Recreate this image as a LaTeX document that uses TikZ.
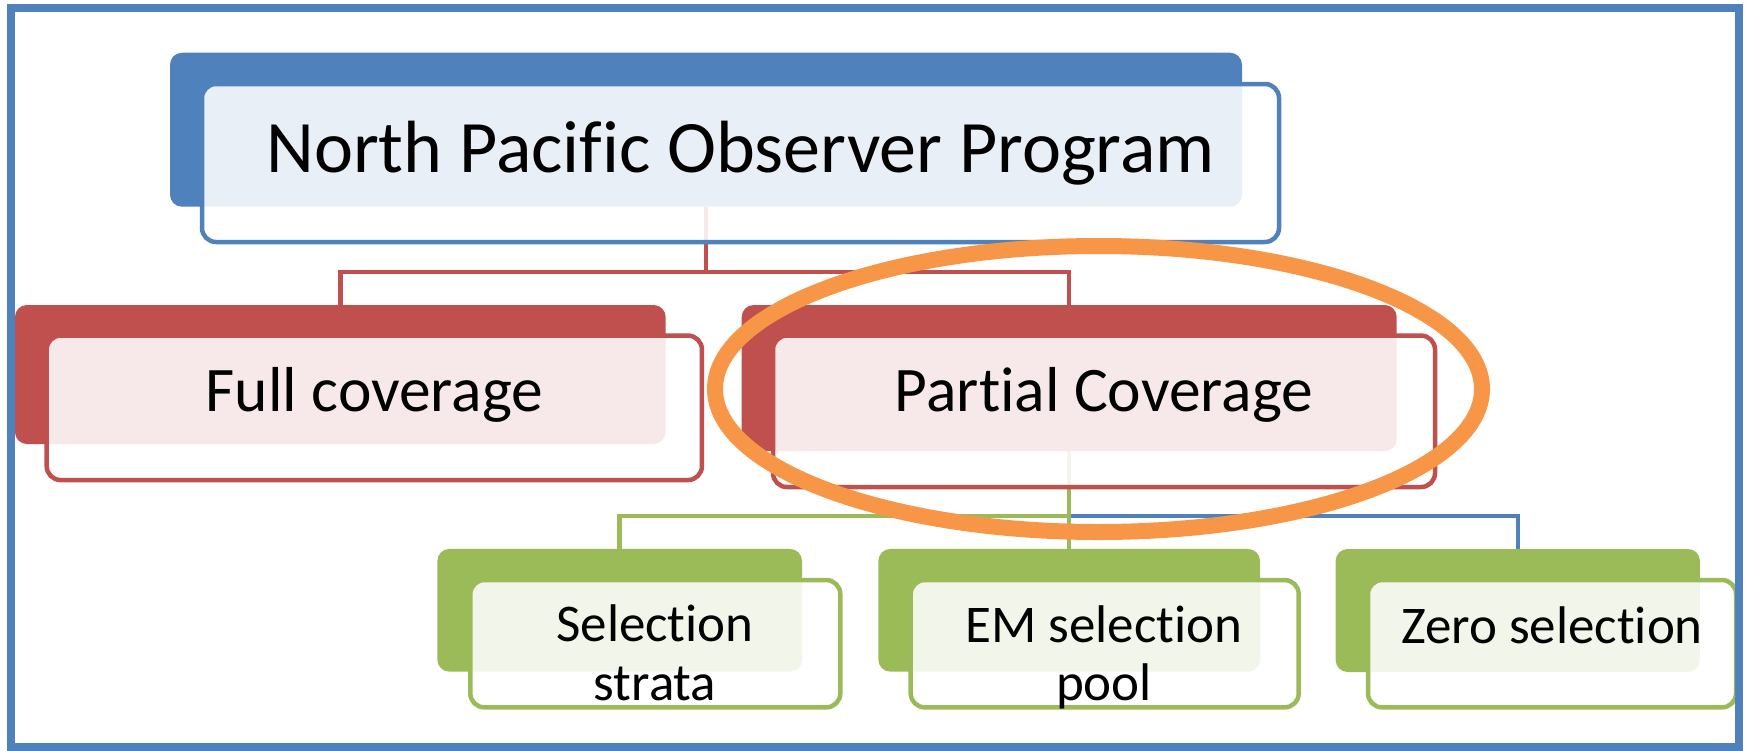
\documentclass[tikz,border=0pt]{standalone}
\usepackage{fontspec}
\setmainfont{Carlito}[Ligatures=NoCommon]
\definecolor{npblue}{HTML}{4F81BD}
\definecolor{npred}{HTML}{C0504D}
\definecolor{npgreen}{HTML}{9BBB59}
\definecolor{nporange}{HTML}{F79646}

\begin{document}
\begin{tikzpicture}
[x=1pt,y=-1pt
,bk/.style={fill=#1,rounded corners=12pt,inner sep=0pt,outer sep=0pt}
,fr/.style={draw=#1,line width=4.5pt,fill=white,fill opacity=0.88,rounded corners=14pt,inner sep=0pt,outer sep=0pt}
,con/.style={draw=#1,line width=4.5pt}
,txt/.style={anchor=base,inner sep=0pt,align=center}
,toptext/.style={font=\fontsize{74}{80}\selectfont}
,covtext/.style={font=\fontsize{63.5}{70}\selectfont}
,seltext/.style={font=\fontsize{53}{58.3}\selectfont}]
\useasboundingbox (0,0) rectangle (1747,750);

% back plates
\node[bk=npblue,minimum width=1072pt,minimum height=154pt] (npop) at (706,129.7) {};
\node[bk=npred,minimum width=650.7pt,minimum height=139pt] (full) at (340.3,374.5) {};
\node[bk=npred,minimum width=655pt,minimum height=146pt] (partial) at (1069.2,378) {};
\node[bk=npgreen,minimum width=364.7pt,minimum height=122.7pt] (strata) at (619.7,610.3) {};
\node[bk=npgreen,minimum width=381.7pt,minimum height=122.7pt] (empool) at (1069.2,610.3) {};
\node[bk=npgreen,minimum width=364.3pt,minimum height=123pt] (zero) at (1517.8,610.5) {};

% connectors
\coordinate (split1) at (706,272);
\coordinate (split2) at (1069.2,516);
\draw[con=npred] (npop.south) -- (split1) -| (full.north);
\draw[con=npred] (split1) -| (partial.north);
\draw[con=npblue] (split2) -| (zero.north);
\draw[con=npgreen] (partial.south) -- (split2) -| (strata.north);
\draw[con=npgreen] (split2) -- (empool.north);

% front plates
\node[fr=npblue,minimum width=1077pt,minimum height=158pt] (npop-f) at (740.5,163) {};
\node[fr=npred,minimum width=655.3pt,minimum height=144.5pt] (full-f) at (374.3,407.8) {};
\node[fr=npred,minimum width=662pt,minimum height=151.5pt] (partial-f) at (1104,411.3) {};
\node[fr=npgreen,minimum width=370pt,minimum height=127.3pt] (strata-f) at (655.3,643.7) {};
\node[fr=npgreen,minimum width=388pt,minimum height=127.3pt] (empool-f) at (1104.7,643.7) {};
\node[fr=npgreen,minimum width=368pt,minimum height=127.3pt] (zero-f) at (1552,643.7) {};

% labels
\node[txt,toptext] (npop-t) at (740.5,172.7) {North Pacific Observer Program};
\node[txt,covtext] (full-t) at (374.5,411.7) {Full coverage};
\node[txt,covtext] (partial-t) at (1104,411.7) {Partial Coverage};
\node[txt,seltext] (strata-t) at (655,700) {Selection\\strata};
\node[txt,seltext] (empool-t) at (1104,700.5) {EM selection\\pool};
\node[txt,seltext] (zero-t) at (1552,643) {Zero selection};

% highlight and frame
\draw[nporange,line width=16pt] (1098.5,389) ellipse [x radius=383.5pt,y radius=143pt];
\draw[npblue,line width=7.5pt] (11,8) rectangle (1739,747);
\end{tikzpicture}
\end{document}
